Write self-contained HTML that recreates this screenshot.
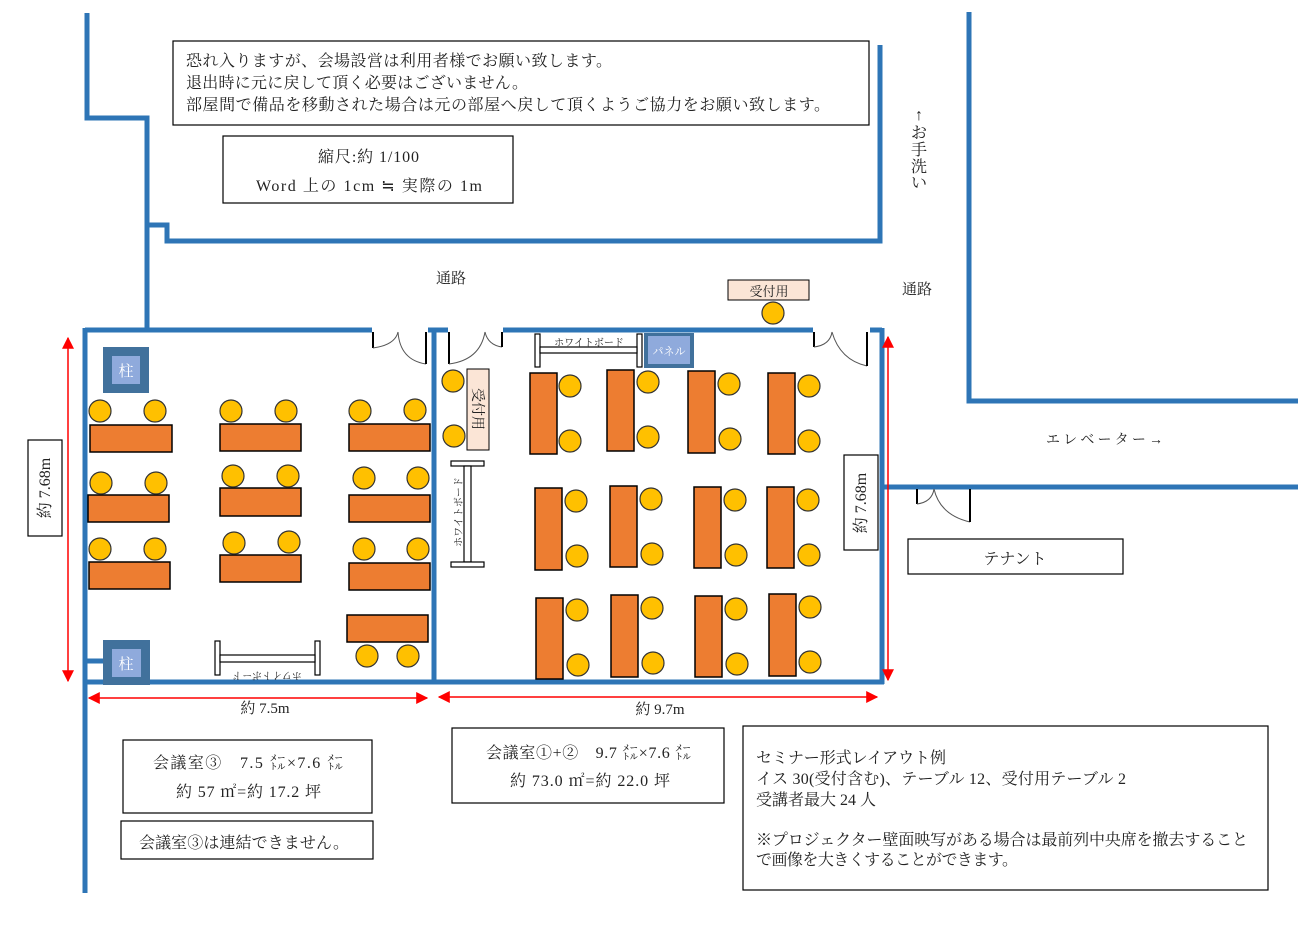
<!DOCTYPE html>
<html><head><meta charset="utf-8"><style>
html,body{margin:0;padding:0;background:#fff;width:1298px;height:931px;overflow:hidden}
svg{display:block}
text{font-family:"Liberation Serif","Noto Serif CJK SC","Noto Sans CJK JP",serif;fill:#222}
.w{stroke:#2e75b6;stroke-width:5;fill:none}
.t{fill:#ed7d31;stroke:#000;stroke-width:1.5}
.c{fill:#ffc000;stroke:#333;stroke-width:1.2}
.b{fill:#fff;stroke:#000;stroke-width:1.2}
.r{stroke:#f00;stroke-width:1.5}
.d{stroke:#555;fill:none;stroke-width:1}
.dk{stroke:#000;stroke-width:2;fill:none}
</style></head><body>
<svg width="1298" height="931" viewBox="0 0 1298 931" xmlns="http://www.w3.org/2000/svg">
<defs>
<marker id="a" viewBox="0 0 10 10" refX="9" refY="5" markerWidth="8" markerHeight="8" orient="auto-start-reverse"><path d="M0,0 L10,5 L0,10z" fill="#f00"/></marker>
</defs>
<polyline class="w" points="87,13 87,118 147,118 147,330"/>
<polyline class="w" points="147,225 167,225 167,241 880,241 880,45"/>
<polyline class="w" points="969,12 969,401 1298,401"/>
<line class="w" x1="880" y1="487" x2="1298" y2="487"/>
<line class="w" x1="85" y1="330" x2="372" y2="330"/>
<line class="w" x1="428" y1="330" x2="448" y2="330"/>
<line class="w" x1="503" y1="330" x2="813" y2="330"/>
<line class="w" x1="870" y1="330" x2="882" y2="330"/>
<line class="w" x1="85" y1="328" x2="85" y2="893"/>
<line class="w" x1="434" y1="330" x2="434" y2="682"/>
<line class="w" x1="882" y1="328" x2="882" y2="684"/>
<line class="w" x1="83" y1="682" x2="884" y2="682"/>
<line class="w" x1="85" y1="661" x2="105" y2="661"/>
<g>
<path class="dk" d="M373,332 V348"/><path class="d" d="M373,348 Q395,345 398,332"/><path class="d" d="M398,332 Q400,360 426,364"/><path class="dk" d="M426,332 V364"/>
<path class="dk" d="M449,332 V364"/><path class="d" d="M449,364 Q480,360 485,332"/><path class="d" d="M485,332 Q488,345 502,347"/><path class="dk" d="M502,332 V347"/>
<path class="dk" d="M814,332 V347"/><path class="d" d="M814,347 Q830,345 832,332"/><path class="d" d="M832,332 Q840,360 867,366"/><path class="dk" d="M867,332 V366"/>
<path class="dk" d="M917,489 V504"/><path class="d" d="M917,504 Q932,502 934,489"/><path class="d" d="M934,489 Q940,515 970,522"/><path class="dk" d="M970,489 V522"/>
</g>
<line class="r" x1="68" y1="338" x2="68" y2="681" marker-start="url(#a)" marker-end="url(#a)"/>
<line class="r" x1="888" y1="337" x2="888" y2="680" marker-start="url(#a)" marker-end="url(#a)"/>
<line class="r" x1="89" y1="698" x2="427" y2="698" marker-start="url(#a)" marker-end="url(#a)"/>
<line class="r" x1="439" y1="697" x2="877" y2="697" marker-start="url(#a)" marker-end="url(#a)"/>
<rect x="103" y="347" width="46" height="46" fill="#41719c"/><rect x="112" y="356" width="28" height="28" fill="#8faadc"/>
<text x="126" y="376" font-size="15" text-anchor="middle" style="fill:#fff">柱</text>
<rect x="103" y="640" width="47" height="45" fill="#41719c"/><rect x="112" y="649" width="29" height="28" fill="#8faadc"/>
<text x="126" y="669" font-size="15" text-anchor="middle" style="fill:#fff">柱</text>
<g>
<rect class="t" x="90" y="425" width="82" height="27"/><rect class="t" x="220" y="424" width="81" height="27"/><rect class="t" x="349" y="424" width="81" height="27"/>
<rect class="t" x="88" y="495" width="81" height="27"/><rect class="t" x="220" y="488" width="81" height="28"/><rect class="t" x="349" y="495" width="81" height="27"/>
<rect class="t" x="89" y="562" width="81" height="27"/><rect class="t" x="220" y="555" width="81" height="27"/><rect class="t" x="349" y="563" width="81" height="27"/>
<rect class="t" x="347" y="615" width="81" height="27"/>
<circle class="c" cx="100" cy="411" r="11"/><circle class="c" cx="155" cy="411" r="11"/><circle class="c" cx="231" cy="411" r="11"/><circle class="c" cx="286" cy="411" r="11"/><circle class="c" cx="360" cy="411" r="11"/><circle class="c" cx="415" cy="410" r="11"/>
<circle class="c" cx="101" cy="483" r="11"/><circle class="c" cx="156" cy="483" r="11"/><circle class="c" cx="233" cy="476" r="11"/><circle class="c" cx="288" cy="476" r="11"/><circle class="c" cx="364" cy="478" r="11"/><circle class="c" cx="418" cy="478" r="11"/>
<circle class="c" cx="100" cy="549" r="11"/><circle class="c" cx="155" cy="549" r="11"/><circle class="c" cx="234" cy="543" r="11"/><circle class="c" cx="289" cy="542" r="11"/><circle class="c" cx="364" cy="549" r="11"/><circle class="c" cx="418" cy="549" r="11"/>
<circle class="c" cx="367" cy="656" r="11"/><circle class="c" cx="408" cy="656" r="11"/>
</g>
<rect class="b" x="215" y="641" width="5" height="34"/><rect class="b" x="315" y="641" width="5" height="34"/><rect class="b" x="220" y="655" width="95" height="7"/>
<text x="267" y="664" font-size="10" text-anchor="middle" transform="rotate(180 267 668)">ホワイトボード</text>
<circle class="c" cx="453" cy="381" r="11"/><circle class="c" cx="454" cy="436" r="11"/>
<rect x="467" y="369" width="22" height="81" fill="#fbe5d6" stroke="#000" stroke-width="1"/>
<text x="478" y="409" font-size="14" text-anchor="middle" transform="rotate(90 478 409)" dy="5">受付用</text>
<rect class="b" x="451" y="461" width="33" height="5"/><rect class="b" x="464" y="466" width="7" height="96"/><rect class="b" x="451" y="562" width="33" height="5"/>
<text x="459" y="512" font-size="10" text-anchor="middle" transform="rotate(-90 459 512)" dy="3">ホワイトボード</text>
<rect class="b" x="535" y="334" width="5" height="33"/><rect class="b" x="637" y="334" width="5" height="33"/><rect class="b" x="540" y="347" width="97" height="6"/>
<text x="589" y="346" font-size="10" text-anchor="middle">ホワイトボード</text>
<rect x="644" y="333" width="50" height="35" fill="#41719c"/><rect x="648" y="336" width="42" height="28" fill="#8faadc"/>
<text x="669" y="355" font-size="11" text-anchor="middle" style="fill:#fff">パネル</text>
<g>
<rect class="t" x="530" y="373" width="27" height="81"/><rect class="t" x="607" y="370" width="27" height="81"/><rect class="t" x="688" y="371" width="27" height="82"/><rect class="t" x="768" y="373" width="27" height="81"/>
<rect class="t" x="535" y="488" width="27" height="82"/><rect class="t" x="610" y="486" width="27" height="81"/><rect class="t" x="694" y="487" width="27" height="81"/><rect class="t" x="767" y="487" width="27" height="81"/>
<rect class="t" x="536" y="598" width="27" height="81"/><rect class="t" x="611" y="595" width="27" height="82"/><rect class="t" x="695" y="596" width="27" height="81"/><rect class="t" x="769" y="594" width="27" height="82"/>
<circle class="c" cx="570" cy="386" r="11"/><circle class="c" cx="570" cy="441" r="11"/><circle class="c" cx="648" cy="382" r="11"/><circle class="c" cx="648" cy="437" r="11"/><circle class="c" cx="729" cy="384" r="11"/><circle class="c" cx="730" cy="439" r="11"/><circle class="c" cx="809" cy="386" r="11"/><circle class="c" cx="809" cy="441" r="11"/>
<circle class="c" cx="576" cy="501" r="11"/><circle class="c" cx="577" cy="556" r="11"/><circle class="c" cx="651" cy="499" r="11"/><circle class="c" cx="652" cy="554" r="11"/><circle class="c" cx="735" cy="500" r="11"/><circle class="c" cx="736" cy="555" r="11"/><circle class="c" cx="808" cy="500" r="11"/><circle class="c" cx="809" cy="555" r="11"/>
<circle class="c" cx="577" cy="610" r="11"/><circle class="c" cx="578" cy="665" r="11"/><circle class="c" cx="652" cy="608" r="11"/><circle class="c" cx="653" cy="663" r="11"/><circle class="c" cx="736" cy="609" r="11"/><circle class="c" cx="737" cy="664" r="11"/><circle class="c" cx="810" cy="607" r="11"/><circle class="c" cx="810" cy="662" r="11"/>
</g>
<rect x="728" y="280" width="81" height="20" fill="#fbe5d6" stroke="#000" stroke-width="1"/>
<text x="769" y="296" font-size="13" text-anchor="middle">受付用</text>
<circle class="c" cx="773" cy="313" r="11"/>
<rect class="b" x="844" y="455" width="34" height="95"/>
<text x="861" y="503" font-size="16" text-anchor="middle" transform="rotate(-90 861 503)" dy="5">約 7.68m</text>
<rect class="b" x="28" y="440" width="34" height="96"/>
<text x="45" y="488" font-size="16" text-anchor="middle" transform="rotate(-90 45 488)" dy="5">約 7.68m</text>
<text x="265" y="713" font-size="15" text-anchor="middle">約 7.5m</text>
<text x="660" y="714" font-size="15" text-anchor="middle">約 9.7m</text>
<text x="451" y="283" font-size="15" text-anchor="middle">通路</text>
<text x="917" y="294" font-size="15" text-anchor="middle">通路</text>
<text x="1046" y="444" font-size="14" textLength="117">エレベーター→</text>
<g font-size="16" text-anchor="middle">
<text x="919" y="120">↑</text><text x="919" y="138">お</text><text x="919" y="155">手</text><text x="919" y="172">洗</text><text x="919" y="188">い</text>
</g>
<rect class="b" x="173" y="41" width="696" height="84"/>
<text x="186" y="66" font-size="16" textLength="426">恐れ入りますが、会場設営は利用者様でお願い致します。</text>
<text x="186" y="88" font-size="16" textLength="342">退出時に元に戻して頂く必要はございません。</text>
<text x="186" y="110" font-size="16" textLength="644">部屋間で備品を移動された場合は元の部屋へ戻して頂くようご協力をお願い致します。</text>
<rect class="b" x="223" y="136" width="290" height="67"/>
<text x="318" y="162" font-size="16" textLength="101">縮尺:約 1/100</text>
<text x="256" y="191" font-size="16" textLength="226">Word 上の 1cm ≒ 実際の 1m</text>
<rect class="b" x="908" y="539" width="215" height="35"/>
<text x="1015" y="564" font-size="16" text-anchor="middle">テナント</text>
<rect class="b" x="123" y="740" width="249" height="73"/>
<text x="153" y="768" font-size="16" textLength="190">会議室③　7.5 ㍍×7.6 ㍍</text>
<text x="176" y="797" font-size="16" textLength="145">約 57 ㎡=約 17.2 坪</text>
<rect class="b" x="121" y="821" width="252" height="38"/>
<text x="139" y="848" font-size="16" textLength="210">会議室③は連結できません。</text>
<rect class="b" x="452" y="728" width="272" height="75"/>
<text x="486" y="758" font-size="16" textLength="205">会議室①+②　9.7 ㍍×7.6 ㍍</text>
<text x="510" y="786" font-size="16" textLength="160">約 73.0 ㎡=約 22.0 坪</text>
<rect class="b" x="743" y="726" width="525" height="164"/>
<g font-size="16">
<text x="756" y="763" textLength="190">セミナー形式レイアウト例</text>
<text x="756" y="784" textLength="370">イス 30(受付含む)、テーブル 12、受付用テーブル 2</text>
<text x="756" y="805" textLength="120">受講者最大 24 人</text>
<text x="756" y="845" textLength="492">※プロジェクター壁面映写がある場合は最前列中央席を撤去すること</text>
<text x="756" y="865" textLength="262">で画像を大きくすることができます。</text>
</g>
</svg>
</body></html>
